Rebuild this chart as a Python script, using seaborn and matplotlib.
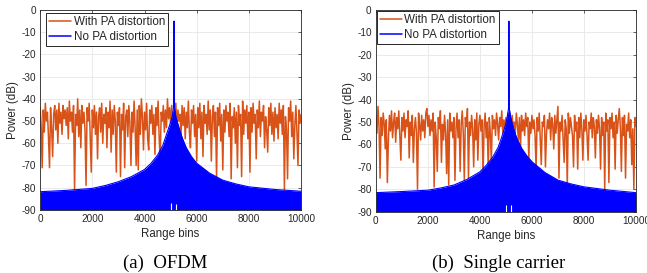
import numpy as np
import matplotlib
matplotlib.use("Agg")
import matplotlib.pyplot as plt
import seaborn as sns

## Data
# range-bin axis of the orange trace (one value every 40 bins)
bin_step = 40

# (a) OFDM - with PA distortion
ofdm_pa = [
    -44, -52, -71, -45, -55, -42, -50, -46, -57, -71, -44, -53, -66, -47, -43, -54, -45, -60, -42, -51, -46, -56, -43, -49, -45,
    -52, -44, -58, -41, -50, -46, -55, -43, -81, -47, -52, -40, -57, -45, -62, -43, -51, -46, -54, -79, -44, -50, -42, -58, -73,
    -45, -53, -43, -56, -46, -67, -48, -44, -55, -42, -60, -47, -51, -44, -62, -46, -53, -41, -64, -45, -56, -43, -50, -73, -46,
    -52, -44, -75, -47, -54, -42, -71, -48, -45, -57, -43, -51, -70, -46, -55, -41, -53, -70, -45, -72, -43, -56, -40, -48, -63,
    -46, -54, -42, -58, -63, -45, -51, -43, -56, -47, -65, -44, -52, -41, -57, -68, -46, -50, -43, -55, -45, -53, -40, -49, -44,
    -51, -43, -55, -46, -49, -42, -54, -45, -50, -47, -56, -43, -52, -44, -58, -46, -53, -41, -55, -62, -45, -51, -43, -57, -47,
    -68, -44, -53, -42, -58, -46, -66, -43, -51, -47, -56, -41, -54, -45, -68, -48, -43, -57, -46, -76, -44, -52, -42, -59, -47,
    -72, -45, -55, -43, -50, -46, -57, -42, -76, -48, -53, -44, -60, -46, -71, -43, -52, -47, -75, -41, -56, -45, -51, -43, -58,
    -46, -73, -44, -55, -42, -51, -47, -67, -45, -53, -41, -57, -46, -50, -43, -62, -48, -54, -64, -44, -52, -42, -56, -46, -59,
    -44, -53, -47, -58, -42, -51, -45, -56, -43, -81, -48, -54, -76, -44, -50, -41, -57, -46, -67, -52, -43, -55, -70, -45, -51,
    -47,
]

# (b) Single carrier - with PA distortion
sc_pa = [
    -47, -55, -43, -52, -75, -48, -56, -46, -51, -62, -49, -77, -58, -47, -54, -45, -57, -50, -46, -59, -48, -53, -45, -56, -67,
    -48, -54, -46, -57, -49, -52, -45, -66, -50, -56, -47, -68, -53, -48, -55, -80, -46, -51, -58, -47, -54, -49, -57, -46, -44,
    -52, -47, -56, -49, -54, -46, -79, -50, -57, -72, -48, -53, -45, -68, -51, -58, -47, -55, -73, -49, -78, -46, -54, -50, -57,
    -48, -76, -53, -46, -57, -49, -72, -51, -45, -55, -76, -48, -52, -44, -75, -50, -56, -47, -53, -70, -49, -58, -46, -67, -51,
    -47, -54, -49, -75, -52, -46, -57, -50, -72, -48, -55, -68, -47, -53, -49, -56, -46, -51, -58, -48, -52, -45, -55, -49, -53,
    -48, -54, -46, -52, -49, -57, -47, -53, -50, -55, -46, -51, -58, -48, -62, -47, -54, -49, -56, -46, -52, -48, -67, -50, -55,
    -47, -53, -49, -56, -71, -48, -54, -46, -57, -69, -50, -52, -47, -70, -55, -49, -53, -46, -58, -48, -51, -62, -47, -55, -49,
    -43, -75, -50, -54, -47, -57, -68, -49, -53, -78, -46, -55, -48, -52, -56, -70, -47, -54, -50, -71, -48, -57, -46, -53, -67,
    -49, -54, -47, -56, -67, -50, -53, -46, -57, -48, -52, -66, -49, -55, -47, -53, -71, -48, -56, -50, -80, -46, -54, -49, -77,
    -48, -53, -46, -57, -50, -71, -47, -55, -49, -44, -52, -72, -48, -56, -47, -75, -51, -54, -46, -57, -49, -69, -53, -80, -48,
    -52,
]

# No PA distortion: upper edge of the (densely oscillating) blue trace
ofdm_clean_bins = [0, 1000, 2000, 2500, 3000, 3500, 4000, 4250, 4500, 4700, 4800, 4900, 5000, 5060, 5110,
                   5130, 5150, 5200, 5260, 5360, 5460, 5600, 5800, 6000, 6500, 7000, 7500, 8000, 9000, 10000]
ofdm_clean = [-81.8, -81.2, -80.3, -79.0, -77.3, -75.0, -71.8, -69.0, -65.3, -61.0, -57.5, -54.0, -50.5, -48.0, -44.0,
              -5.0, -44.0, -48.0, -50.5, -54.5, -58.0, -62.0, -66.0, -69.0, -73.5, -76.6, -78.3, -79.6, -80.8, -81.6]

sc_clean_bins = [0, 1000, 2000, 2500, 3000, 3500, 4000, 4250, 4500, 4700, 4800, 4900, 4990, 5050, 5100,
                 5115, 5130, 5180, 5250, 5350, 5450, 5600, 5800, 6000, 6500, 7000, 7500, 8000, 9000, 10000]
sc_clean = [-81.5, -81.0, -80.4, -79.4, -78.1, -75.6, -72.2, -69.2, -65.5, -61.3, -58.0, -54.5, -51.0, -47.6, -44.0,
            -5.0, -44.0, -47.6, -51.0, -55.0, -58.0, -61.6, -65.0, -67.7, -72.5, -75.9, -77.6, -78.9, -80.4, -81.5]

# little nulls at the bottom of the blue trace
ofdm_null_bins = [5015, 5210]
ofdm_null_tops = [-86.8, -87.5]
sc_null_bins = [5000, 5190]
sc_null_tops = [-87.0, -87.0]

panels = [
    ("(a)  OFDM", ofdm_pa, ofdm_clean_bins, ofdm_clean, ofdm_null_bins, ofdm_null_tops),
    ("(b)  Single carrier", sc_pa, sc_clean_bins, sc_clean, sc_null_bins, sc_null_tops),
]

x_ticks = [0, 2000, 4000, 6000, 8000, 10000]
y_ticks = [-90, -80, -70, -60, -50, -40, -30, -20, -10, 0]

orange = "#D95319"
blue = "#0000FF"
dark = "#262626"

sns.set_theme(style="whitegrid")
plt.rcParams["font.family"] = ["Liberation Sans", "DejaVu Sans"]
plt.rcParams["axes.unicode_minus"] = False

fig = plt.figure(figsize=(6.47, 2.73), dpi=100)
ax_pos = [[0.062, 0.231, 0.4034, 0.7326], [0.581, 0.2245, 0.4019, 0.739]]
leg_anchor = [(0.023, 0.985), (0.004, 0.995)]
cap_x = [0.255, 0.771]

for i, (cap, pa, cb, cv, nb, nt) in enumerate(panels):
    ax = fig.add_axes(ax_pos[i])
    ax.set_facecolor("white")
    x_pa = np.arange(len(pa)) * bin_step
    sns.lineplot(x=x_pa, y=pa, ax=ax, color=orange, lw=1.1, label="With PA distortion")
    ax.fill_between(cb, -90, cv, color=blue, lw=0, zorder=3)
    sns.lineplot(x=cb, y=cv, ax=ax, color=blue, lw=0.8, label="No PA distortion", zorder=4)
    ax.vlines(nb, -90, nt, color="white", lw=0.8, zorder=5)

    ax.set_xlim(0, 10000)
    ax.set_ylim(-90, 0)
    ax.set_xticks(x_ticks)
    ax.set_yticks(y_ticks)
    ax.grid(True, color="#E6E6E6", lw=0.6)
    ax.set_axisbelow(True)
    for s in ax.spines.values():
        s.set_color(dark)
        s.set_linewidth(0.6)
        s.set_zorder(6)
    ax.tick_params(direction="in", length=2.5, width=0.5, colors=dark,
                   labelsize=7.2, top=True, right=True, pad=3)
    ax.set_xlabel("Range bins", fontsize=8.3, color=dark, labelpad=3)
    ax.set_ylabel("Power (dB)", fontsize=8.3, color=dark, labelpad=1.5)

    leg = ax.legend(loc="upper left", bbox_to_anchor=leg_anchor[i], borderaxespad=0,
                    fontsize=8.4, handlelength=1.9, handletextpad=0.2, labelspacing=0.3,
                    borderpad=0.25, fancybox=False, framealpha=1, edgecolor=dark)
    leg.get_frame().set_linewidth(0.7)
    leg.set_zorder(10)
    for t in leg.get_texts():
        t.set_color(dark)
    for h in leg.get_lines():
        h.set_linewidth(1.1)

    fig.text(cap_x[i], 0.037, cap, ha="center", va="center", fontsize=13.5,
             family=["Liberation Serif", "DejaVu Serif"], color="black")

fig.savefig("out.png", dpi=100)
